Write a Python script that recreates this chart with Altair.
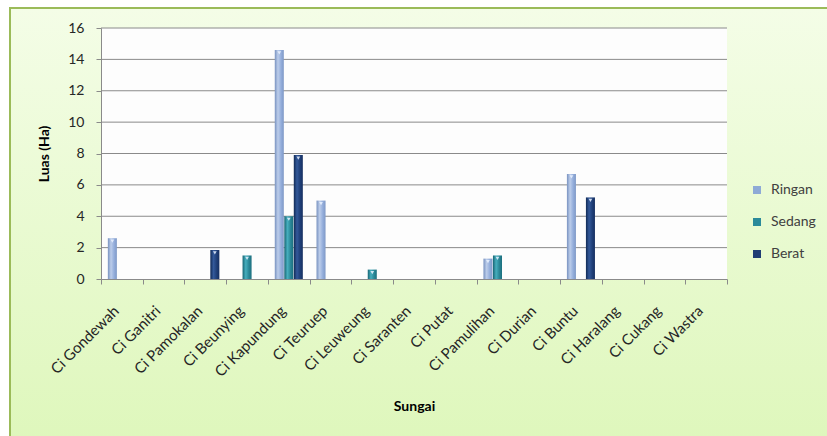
import altair as alt
import pandas as pd

# Luas lahan kritis (Ha) per sungai, dikelompokkan menurut tingkat kerusakan
sungai = ["Ci Gondewah", "Ci Ganitri", "Ci Pamokalan", "Ci Beunying", "Ci Kapundung",
          "Ci Teuruep", "Ci Leuweung", "Ci Saranten", "Ci Putat", "Ci Pamulihan",
          "Ci Durian", "Ci Buntu", "Ci Haralang", "Ci Cukang", "Ci Wastra"]
kelas = ["Ringan", "Sedang", "Berat"]
ringan = [2.6, 0, 0, 0, 14.6, 5.0, 0, 0, 0, 1.3, 0, 6.7, 0, 0, 0]
sedang = [0, 0, 0, 1.5, 4.0, 0, 0.6, 0, 0, 1.5, 0, 0, 0, 0, 0]
berat = [0, 0, 1.85, 0, 7.9, 0, 0, 0, 0, 0, 0, 5.2, 0, 0, 0]
y_ticks = [0, 2, 4, 6, 8, 10, 12, 14, 16]

warna = ["#8eaad6", "#2b8a9a", "#1f3d74"]
gradasi = {
    "Ringan": ["#7892c0", "#bccdea", "#93addb", "#7f99c6"],
    "Sedang": ["#176574", "#46aebd", "#2a8797", "#1c6f7e"],
    "Berat": ["#112a55", "#33599a", "#1f3f78", "#162f60"],
}

rows = []
for i, s in enumerate(sungai):
    for k, vals in zip(kelas, [ringan, sedang, berat]):
        rows.append({"Sungai": s, "Kelas": k, "Luas": vals[i]})
df = pd.DataFrame(rows)

W, H = 626, 251
FONT = "Lato"

x_scale = alt.Scale(domain=sungai, paddingInner=0, paddingOuter=0)
xo_scale = alt.Scale(domain=kelas, paddingInner=0.05, paddingOuter=0.72)
y_scale = alt.Scale(domain=[0, 16], nice=False, zero=True)

x_axis = alt.Axis(
    title="Sungai", labelAngle=-45, labelFont=FONT, labelFontSize=15, labelColor="#262626",
    labelPadding=19, labelOffset=-11, tickBand="extent", tickSize=5, tickColor="#8a8a8a",
    domainColor="#8a8a8a", grid=False, zindex=1, labelOverlap=False,
    titleFont=FONT, titleFontSize=14, titleFontWeight="bold", titleColor="#000000",
    titleY=127, titleBaseline="middle")
y_axis = alt.Axis(
    title="Luas (Ha)", values=y_ticks, labelFont=FONT, labelFontSize=14,
    labelColor="#262626", labelPadding=12, tickSize=5, tickColor="#8a8a8a",
    domainColor="#8a8a8a", grid=False, zindex=1,
    titleFont=FONT, titleFontSize=14, titleFontWeight="bold", titleColor="#000000",
    titlePadding=16)

one = pd.DataFrame({"a": [0]})

# Panel latar dengan bingkai hijau
panel = alt.Chart(one).mark_rect(
    fill=alt.Gradient(gradient="linear", x1=0, x2=0, y1=0, y2=1,
                      stops=[alt.GradientStop(offset=0, color="#f4fde7"),
                             alt.GradientStop(offset=1, color="#def7bb")]),
    stroke="#9bbb59", strokeWidth=2
).encode(x=alt.value(-91), x2=alt.value(740), y=alt.value(-20), y2=alt.value(420))

# Area plot putih
plot_bg = alt.Chart(one).mark_rect(fill="#fdfdfd").encode(
    x=alt.value(0), x2=alt.value(W), y=alt.value(0), y2=alt.value(H))

# Garis bantu horizontal
grid = alt.Chart(pd.DataFrame({"Luas": y_ticks[1:]})).mark_rule(
    color="#8a8a8a", strokeWidth=1
).encode(y=alt.Y("Luas:Q", scale=y_scale, axis=y_axis), x=alt.value(0), x2=alt.value(W))

base = alt.Chart(df).transform_filter("datum.Luas > 0")

bars = []
for k in kelas:
    c = gradasi[k]
    g = alt.Gradient(gradient="linear", x1=0, x2=1, y1=0, y2=0,
                     stops=[alt.GradientStop(offset=0, color=c[0]),
                            alt.GradientStop(offset=0.35, color=c[1]),
                            alt.GradientStop(offset=0.7, color=c[2]),
                            alt.GradientStop(offset=1, color=c[3])])
    layer = base.transform_filter(alt.datum.Kelas == k).mark_bar(fill=g).encode(
        x=alt.X("Sungai:N", scale=x_scale, axis=x_axis, sort=sungai),
        xOffset=alt.XOffset("Kelas:N", scale=xo_scale, sort=kelas),
        y=alt.Y("Luas:Q", scale=y_scale, axis=y_axis),
    )
    bars.append(layer)

# Tutup segitiga terang di puncak batang
caps = base.mark_point(shape="triangle-down", filled=True, size=14,
                       color="#eaf2ff", opacity=0.85).encode(
    x=alt.X("Sungai:N", scale=x_scale, axis=x_axis, sort=sungai),
    xOffset=alt.XOffset("Kelas:N", scale=xo_scale, sort=kelas),
    y=alt.Y("Luas:Q", scale=y_scale, axis=y_axis),
    yOffset=alt.value(3),
)

# Legenda
legend_layer = alt.Chart(df).transform_filter("false").mark_square(size=64, opacity=1).encode(
    color=alt.Color("Kelas:N", scale=alt.Scale(domain=kelas, range=warna),
                    legend=alt.Legend(title=None, orient="none", legendX=649, legendY=155,
                                      labelFont=FONT, labelFontSize=14, labelColor="#404040",
                                      symbolSize=64, symbolType="square", rowPadding=18,
                                      labelOffset=7, zindex=1, symbolStrokeWidth=0,
                                      symbolOpacity=1))
)

chart = alt.layer(panel, plot_bg, grid, *bars, caps, legend_layer).properties(
    width=W, height=H,
    autosize=alt.AutoSizeParams(type="none"),
    padding={"left": 101, "top": 28, "right": 100, "bottom": 157},
    background="#ffffff",
).configure_view(stroke=None, fill=None)

chart.save("out.html", embed_options={"renderer": "svg", "actions": False})
